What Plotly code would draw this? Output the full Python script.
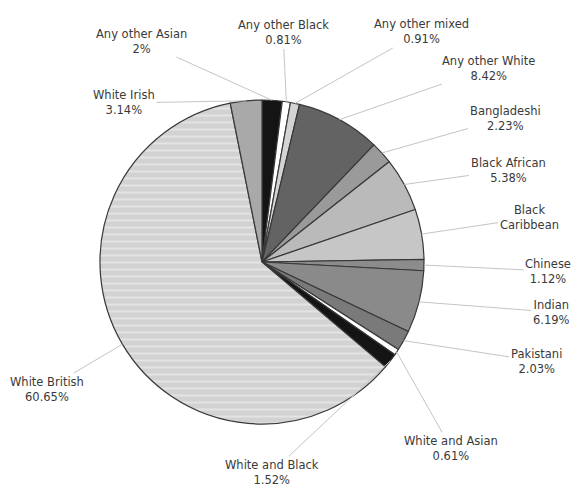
import math
import plotly.graph_objects as go

# Ethnic group breakdown (percent of population)
groups = [
    "Any other Asian", "Any other Black", "Any other mixed", "Any other White",
    "Bangladeshi", "Black African", "Black Caribbean", "Chinese", "Indian",
    "Pakistani", "White and Asian", "White and Black", "White British", "White Irish",
]
shares = [2.00, 0.81, 0.91, 8.42, 2.23, 5.38, 4.99, 1.12, 6.19, 2.03, 0.61, 1.52, 60.65, 3.14]
label_texts = [
    "Any other Asian<br>2%", "Any other Black<br>0.81%", "Any other mixed<br>0.91%",
    "Any other White<br>8.42%", "Bangladeshi<br>2.23%", "Black African<br>5.38%",
    "Black<br>Caribbean", "Chinese<br>1.12%", "Indian<br>6.19%", "Pakistani<br>2.03%",
    "White and Asian<br>0.61%", "White and Black<br>1.52%", "White British<br>60.65%",
    "White Irish<br>3.14%",
]

# Greyscale slice fills
fills = ["#141414", "#ffffff", "#d4d4d4", "#636363", "#9a9a9a", "#bababa", "#c6c6c6",
         "#8c8c8c", "#8a8a8a", "#7a7a7a", "#ffffff", "#141414", "#d6d6d6", "#a9a9a9"]
patterns = [""] * len(groups)
patterns[groups.index("White British")] = "-"

W, H = 575, 491
CX, CY, R = 262, 262, 162  # pie centre and radius in pixels

# Label text centres (pixels from the top-left corner)
label_pos = [
    (141, 41), (283, 33), (421, 32), (488, 68), (505, 118), (508, 170), (529, 218),
    (548, 271), (551, 312), (536, 361), (451, 448), (272, 472), (47, 389), (124, 103),
]

fig = go.Figure(go.Pie(
    labels=groups,
    values=shares,
    sort=False,
    direction="clockwise",
    rotation=0,
    textinfo="none",
    hoverinfo="label+percent",
    showlegend=False,
    marker=dict(
        colors=fills,
        line=dict(color="#383838", width=1.2),
        pattern=dict(shape=patterns, fgcolor="#f4f4f4", bgcolor="#d2d2d2",
                     size=7, solidity=0.3, fillmode="overlay"),
    ),
    domain=dict(x=[(CX - R) / W, (CX + R) / W],
                y=[(H - CY - R) / H, (H - CY + R) / H]),
))

# Leader lines from each slice's mid-angle on the rim out to its label
total = sum(shares)
cum = 0.0
annotations = []
for name, val, txt, (lx, ly) in zip(groups, shares, label_texts, label_pos):
    mid = (cum + val / 2) / total * 2 * math.pi
    cum += val
    px = CX + R * math.sin(mid)
    py = CY - R * math.cos(mid)
    annotations.append(dict(
        x=px / W, y=1 - py / H, xref="paper", yref="paper",
        ax=lx - px, ay=ly - py, axref="pixel", ayref="pixel",
        text=txt, showarrow=True, arrowhead=0, arrowwidth=1,
        arrowcolor="#c4c4c4", standoff=0,
        font=dict(family="DejaVu Sans", size=11.5, color="#3a3a3a"),
        align="center",
    ))

fig.update_layout(
    width=W, height=H,
    margin=dict(l=0, r=0, t=0, b=0),
    paper_bgcolor="white", plot_bgcolor="white",
    annotations=annotations,
)

fig.write_html("out.html")
